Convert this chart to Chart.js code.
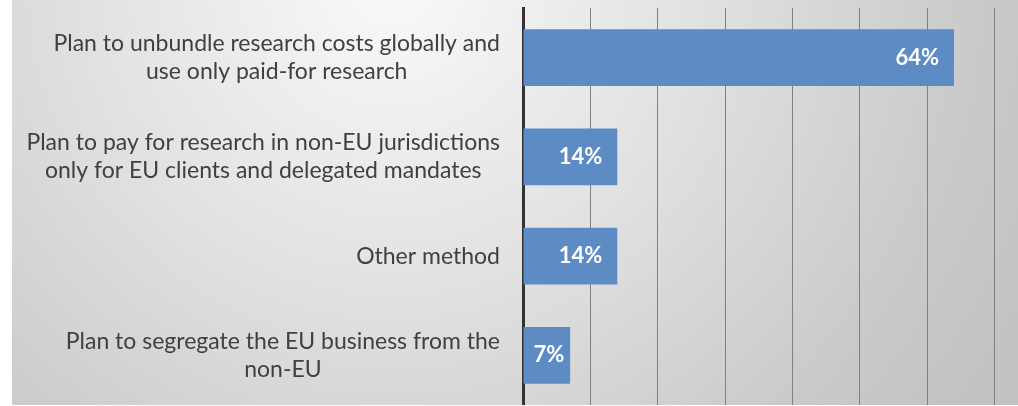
<!DOCTYPE html>
<html>
<head>
<meta charset="utf-8">
<script src="https://cdn.jsdelivr.net/npm/chart.js@4"></script>
<style>
  html, body { margin: 0; padding: 0; background: #ffffff; }
  #wrap { position: absolute; left: 12px; top: 0; width: 1006px; height: 405px; }
</style>
</head>
<body>
<div id="wrap"><canvas id="chart"></canvas></div>
<script>
// survey answers, one line per array entry
const categories = [
    ['Plan to unbundle research costs globally and', 'use only paid-for research'],
    ['Plan to pay for research in non-EU jurisdictions', 'only for EU clients and delegated mandates'],
    ['Other method'],
    ['Plan to segregate the EU business from the', 'non-EU']
];
const shares = [64, 14, 14, 7];
const gridSteps = [0, 10, 20, 30, 40, 50, 60, 70];

const labelFont = '23px Lato';
const valueFont = 'bold 22px Lato';

// grey radial background like the office chart
const backgroundPlugin = {
    id: 'bg',
    beforeDraw(chart) {
        const ctx = chart.ctx;
        const w = chart.width, h = chart.height;
        const g = ctx.createRadialGradient(380, -20, 20, 380, -20, 720);
        g.addColorStop(0, '#f8f8f8');
        g.addColorStop(0.4, '#e2e2e2');
        g.addColorStop(0.8, '#cacaca');
        g.addColorStop(1, '#c2c2c2');
        ctx.save();
        ctx.fillStyle = g;
        ctx.fillRect(0, 0, w, h);
        ctx.restore();
    }
};

// category labels: block right aligned, lines centred inside the block
const labelPlugin = {
    id: 'catLabels',
    afterDraw(chart) {
        const ctx = chart.ctx;
        const yScale = chart.scales.y;
        const right = chart.chartArea.left - 23;
        const lineHeight = 28;
        ctx.save();
        ctx.font = labelFont;
        ctx.fillStyle = '#404040';
        ctx.textAlign = 'center';
        ctx.textBaseline = 'middle';
        categories.forEach((lines, i) => {
            const maxW = Math.max(...lines.map(l => ctx.measureText(l).width));
            const cx = right - maxW / 2;
            const cy = yScale.getPixelForValue(i);
            const top = cy - (lines.length - 1) * lineHeight / 2;
            lines.forEach((l, j) => ctx.fillText(l, cx, top + j * lineHeight));
        });
        ctx.restore();
    }
};

// white percentage labels at the inside end of each bar
const valuePlugin = {
    id: 'values',
    afterDatasetsDraw(chart) {
        const ctx = chart.ctx;
        const meta = chart.getDatasetMeta(0);
        ctx.save();
        ctx.font = valueFont;
        ctx.fillStyle = '#ffffff';
        ctx.textBaseline = 'middle';
        meta.data.forEach((bar, i) => {
            const text = shares[i] + '%';
            const tw = ctx.measureText(text).width;
            const barW = bar.x - bar.base;
            if (barW < tw + 30) {
                ctx.textAlign = 'center';
                ctx.fillText(text, bar.base + barW / 2 + 2, bar.y);
            } else {
                ctx.textAlign = 'right';
                ctx.fillText(text, bar.x - 15, bar.y);
            }
        });
        ctx.restore();
    }
};

new Chart(document.getElementById('chart'), {
    type: 'bar',
    data: {
        labels: categories.map(c => c.join(' ')),
        datasets: [{
            data: shares,
            backgroundColor: '#5d8cc5',
            borderWidth: 0,
            categoryPercentage: 1,
            barPercentage: 0.57
        }]
    },
    plugins: [backgroundPlugin, labelPlugin, valuePlugin],
    options: {
        indexAxis: 'y',
        responsive: true,
        maintainAspectRatio: false,
        animation: false,
        layout: { padding: { top: 8, right: 0, bottom: 0, left: 0 } },
        plugins: {
            legend: { display: false },
            tooltip: { enabled: false }
        },
        scales: {
            x: {
                min: 0,
                max: 73.5,
                afterBuildTicks(scale) {
                    scale.ticks = gridSteps.map(v => ({ value: v }));
                },
                ticks: { display: false },
                grid: { color: '#808080', lineWidth: 1, drawTicks: false },
                border: { display: false }
            },
            y: {
                ticks: { display: false },
                grid: { display: false, drawTicks: false },
                border: { display: true, color: '#333333', width: 3 },
                afterFit(scale) {
                    scale.width = 511;
                }
            }
        }
    }
});
</script>
</body>
</html>
